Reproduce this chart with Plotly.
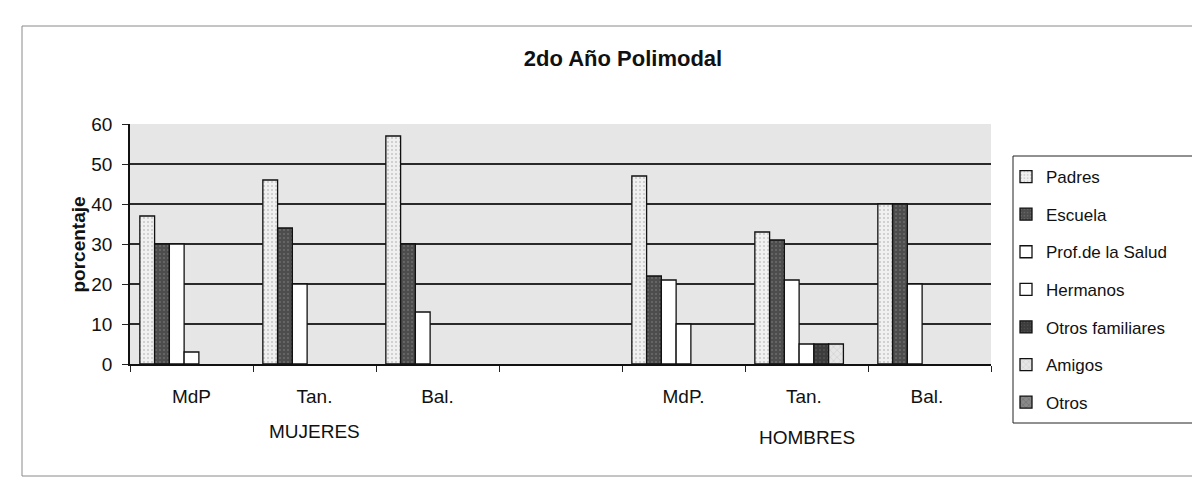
import plotly.graph_objects as go

categories = ["MdP", "Tan.", "Bal.", " ", "MdP.", "Tan. ", "Bal. "]
series_names = ["Padres", "Escuela", "Prof.de la Salud", "Hermanos",
                "Otros familiares", "Amigos", "Otros"]
# None = no bar drawn in that category
padres = [37, 46, 57, None, 47, 33, 40]
escuela = [30, 34, 30, None, 22, 31, 40]
prof_salud = [30, 20, 13, None, 21, 21, 20]
hermanos = [3, None, None, None, 10, 5, None]
otros_familiares = [None, None, None, None, None, 5, None]
amigos = [None, None, None, None, None, 5, None]
otros = [None, None, None, None, None, None, None]
y_ticks = [0, 10, 20, 30, 40, 50, 60]
group_labels = ["MUJERES", "HOMBRES"]

series_values = [padres, escuela, prof_salud, hermanos, otros_familiares, amigos, otros]
fills = ["#f0f0f0", "#4d4d4d", "#ffffff", "#ffffff", "#3c3c3c", "#e6e6e6", "#8a8a8a"]
patterns = [
    dict(shape=".", fgcolor="#9a9a9a", size=4, solidity=0.2),
    dict(shape=".", fgcolor="#8c8c8c", size=4, solidity=0.2),
    None, None,
    dict(shape=".", fgcolor="#6a6a6a", size=4, solidity=0.2),
    dict(shape="x", fgcolor="#9a9a9a", size=5, solidity=0.15),
    dict(shape="x", fgcolor="#444444", size=5, solidity=0.2),
]

FONT = "Liberation Sans, Arial, sans-serif"
L, R, T, B = 122, 217, 116, 122
PW, PH = 1200 - L - R, 478 - T - B


def px_x(x):
    return (x - L) / PW


def px_y(y):
    return (478 - B - y) / PH


fig = go.Figure()
for i, (name, vals) in enumerate(zip(series_names, series_values)):
    marker = dict(color=fills[i], line=dict(color="#111111", width=1.3))
    if patterns[i] is not None:
        marker["pattern"] = patterns[i]
    fig.add_trace(go.Bar(
        x=categories, y=vals, name=name, marker=marker,
        legendgroup=name,
    ))

fig.update_layout(
    width=1200, height=478,
    barmode="group", bargap=0.16, bargroupgap=0,
    paper_bgcolor="white", plot_bgcolor="#e6e6e6",
    margin=dict(l=L, r=R, t=T, b=B, autoexpand=False),
    font=dict(family=FONT, size=17, color="#111111"),
    title=dict(text="<b>2do Año Polimodal</b>", x=615 / 1200, xanchor="center",
               xref="container", y=1 - 50 / 478, yref="container", yanchor="middle",
               font=dict(family=FONT, size=22, color="#111111")),
    showlegend=True,
    legend=dict(
        x=px_x(998), xanchor="left",
        y=px_y(151), yanchor="top",
        bgcolor="rgba(0,0,0,0)", borderwidth=0,
        font=dict(family=FONT, size=17, color="#111111"),
        traceorder="grouped", tracegroupgap=12.5,
        itemwidth=30, maxheight=340,
    ),
    xaxis=dict(
        type="category", categoryorder="array", categoryarray=categories,
        tickson="boundaries", ticks="outside", ticklen=6, tickcolor="#222222",
        showline=True, linecolor="#111111", linewidth=1.5,
        showgrid=False, ticklabelstandoff=14,
        tickfont=dict(family=FONT, size=19, color="#111111"),
    ),
    yaxis=dict(
        range=[0, 60], tickvals=y_ticks, ticks="outside", ticklen=6,
        tickcolor="#222222", showline=True, linecolor="#111111", linewidth=1.5,
        showgrid=True, gridcolor="#2a2a2a", gridwidth=1.5,
        ticklabelstandoff=6,
        tickfont=dict(family=FONT, size=19, color="#111111"),
        zeroline=False,
    ),
    annotations=[
        dict(text="<b>porcentaje</b>", xref="paper", yref="paper",
             x=px_x(57), y=px_y(237), textangle=-90, showarrow=False,
             font=dict(family=FONT, size=19, color="#111111")),
        dict(text=group_labels[0], xref="x", yref="paper", x=categories[1],
             y=px_y(423), yanchor="middle", showarrow=False,
             font=dict(family=FONT, size=19, color="#111111")),
        dict(text=group_labels[1], xref="x", yref="paper", x=categories[5],
             y=px_y(429), yanchor="middle", showarrow=False,
             font=dict(family=FONT, size=19, color="#111111")),
    ],
    shapes=[
        dict(type="rect", xref="paper", yref="paper",
             x0=px_x(14), x1=px_x(1215),
             y0=px_y(468), y1=px_y(18),
             line=dict(color="#8a8a8a", width=1), fillcolor="rgba(0,0,0,0)",
             layer="below"),
        dict(type="rect", xref="paper", yref="paper",
             x0=px_x(1005), x1=px_x(1195),
             y0=px_y(415), y1=px_y(148),
             line=dict(color="#222222", width=1), fillcolor="white",
             layer="below"),
    ],
)

fig.write_html("out.html")
